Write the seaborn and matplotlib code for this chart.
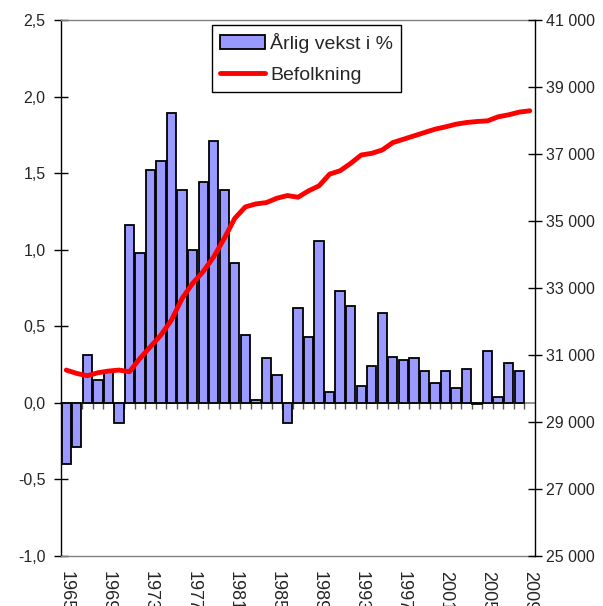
import numpy as np
import pandas as pd
import matplotlib
matplotlib.use('Agg')
import matplotlib.pyplot as plt
import seaborn as sns
from matplotlib.patches import Patch
from matplotlib.lines import Line2D
from matplotlib.ticker import FuncFormatter, MultipleLocator

# Data
years = list(range(1965, 2010))
vekst = [-0.40, -0.29, 0.31, 0.15, 0.20, -0.13, 1.16, 0.98, 1.52, 1.58,
         1.89, 1.39, 1.00, 1.44, 1.71, 1.39, 0.91, 0.44, 0.02, 0.29,
         0.18, -0.13, 0.62, 0.43, 1.06, 0.07, 0.73, 0.63, 0.11, 0.24,
         0.59, 0.30, 0.28, 0.29, 0.21, 0.13, 0.21, 0.10, 0.22, -0.01,
         0.34, 0.04, 0.26, 0.21, np.nan]
befolkning = [30550, 30450, 30380, 30470, 30520, 30550, 30500, 30900, 31250, 31600,
              32050, 32690, 33140, 33490, 33930, 34480, 35080, 35420, 35510, 35550,
              35680, 35760, 35710, 35900, 36050, 36400, 36500, 36720, 36970, 37020,
              37120, 37340, 37440, 37540, 37640, 37740, 37810, 37890, 37940, 37970,
              37990, 38110, 38170, 38250, 38290]
right_ticks = list(range(25000, 41001, 2000))

df = pd.DataFrame({'År': [str(y) for y in years], 'Vekst': vekst})

sns.set_style('white')
plt.rcParams['font.family'] = ['Liberation Sans', 'DejaVu Sans']

fig, ax = plt.subplots(figsize=(6.03, 6.06), dpi=100)
fig.subplots_adjust(left=61/603, right=535/603, top=1-20/606, bottom=1-556/606)

bar_color = '#9999FF'
sns.barplot(data=df, x='År', y='Vekst', order=df['År'].tolist(), color=bar_color,
            saturation=1, edgecolor='black', linewidth=1.3, width=0.88,
            errorbar=None, ax=ax)

ax2 = ax.twinx()
sns.lineplot(x=np.arange(len(years)), y=befolkning, ax=ax2, color='#FF0000',
             linewidth=3.5, legend=False)

ax.set_xlim(-0.5, len(years) - 0.5)
ax.set_ylim(-1.0, 2.5)
ax2.set_ylim(25000, 41000)

ax.yaxis.set_major_locator(MultipleLocator(0.5))
ax.yaxis.set_major_formatter(FuncFormatter(lambda v, p: f"{v:.1f}".replace('.', ',')))
ax2.set_yticks(right_ticks)
ax2.yaxis.set_major_formatter(FuncFormatter(lambda v, p: f"{int(v):,}".replace(',', ' ')))

ax.set_xticks(np.arange(0, len(years), 4))
ax.set_xticklabels([str(y) for y in years[::4]], rotation=270, fontsize=13)
ax.tick_params(axis='x', length=0, pad=11)
ax.tick_params(axis='y', direction='inout', length=10, width=1, color='black',
               labelsize=11.5, pad=6, left=True)
ax2.tick_params(axis='y', direction='inout', length=10, width=1, color='black',
                labelsize=11.5, pad=3, right=True)

ax.set_xlabel('')
ax.set_ylabel('')
ax2.set_ylabel('')

for a in (ax, ax2):
    for s in a.spines.values():
        s.set_linewidth(1.0)
ax.spines['left'].set_color('black')
ax.spines['top'].set_color('#808080')
ax.spines['bottom'].set_color('#808080')
ax.spines['right'].set_visible(False)
ax2.spines['right'].set_color('black')
ax2.spines['left'].set_visible(False)
ax2.spines['top'].set_visible(False)
ax2.spines['bottom'].set_visible(False)

# category axis crossing at zero
zero_ax = ax.secondary_xaxis(1.0 / 3.5)
zero_ax.set_xticks(np.arange(0.5, len(years) - 1, 1.0))
zero_ax.tick_params(axis='x', direction='out', length=4, width=1,
                    color='#555555', labelbottom=False, labeltop=False)
zero_ax.spines['bottom'].set_color('#808080')
zero_ax.spines['bottom'].set_linewidth(1.2)

handles = [Patch(facecolor=bar_color, edgecolor='black', linewidth=1.3),
           Line2D([0], [0], color='#FF0000', linewidth=3.5)]
leg = fig.legend(handles, ['Årlig vekst i %', 'Befolkning'], loc='upper left',
                 bbox_to_anchor=(212/603, 1-25/606), borderaxespad=0,
                 fontsize=14, frameon=True, fancybox=False, framealpha=1,
                 edgecolor='black', handlelength=2.3, handletextpad=0.3,
                 labelspacing=0.7, borderpad=0.4)
leg.get_frame().set_linewidth(1.0)

plt.savefig('out.png', dpi=100)
